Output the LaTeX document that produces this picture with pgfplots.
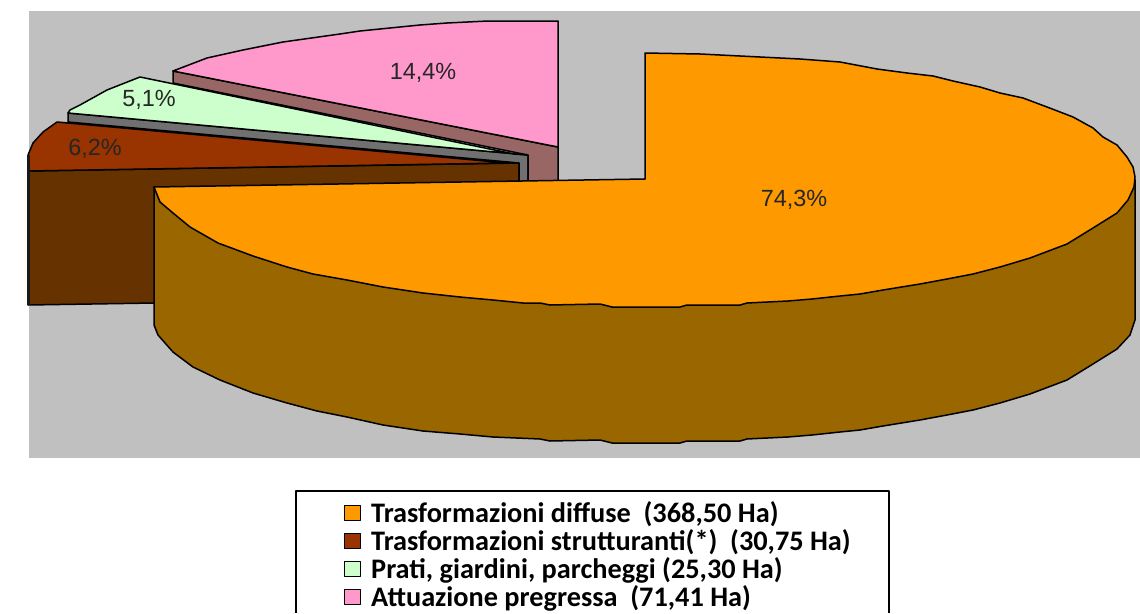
\documentclass[border=0pt]{standalone}
\usepackage{pgfplots}
\pgfplotsset{compat=1.18}
\usepackage{fontspec}
\setmainfont{Liberation Sans}
\newfontfamily\legfont{Carlito}
\definecolor{bgc}{HTML}{C0C0C0}
\definecolor{orT}{HTML}{FF9900}
\definecolor{orS}{HTML}{996600}
\definecolor{brT}{HTML}{993300}
\definecolor{brS}{HTML}{663300}
\definecolor{grT}{HTML}{CCFFCC}
\definecolor{grS}{HTML}{707070}
\definecolor{piT}{HTML}{FF99CC}
\definecolor{piS}{HTML}{996666}
\begin{document}
\begin{tikzpicture}[x=1pt,y=1pt]
\clip (0,0) rectangle (1140,613);
\begin{axis}[
  at={(0,0)}, anchor=south west,
  scale only axis, width=1140pt, height=613pt,
  xmin=0, xmax=1140, ymin=0, ymax=613, y dir=reverse,
  hide axis, clip=true,
  every axis plot/.append style={line width=1.5pt, draw=black, mark=none, line join=round},
]
% background
\addplot[fill=bgc, draw=none] coordinates {(29,11)(1140,11)(1140,458)(29,458)} -- cycle;
% brown
\addplot[fill=brS] coordinates {(28,171)(519,163)(519,200)(155,303)(28,305)} -- cycle;
\addplot[fill=brT] coordinates {(28,171)(28,155)(33,143)(43,132)(57,122)(507,163)} -- cycle;
\addplot[draw=black!90, line width=2.4pt] coordinates {(28.5,155)(28.5,305)};
% green
\addplot[fill=grS] coordinates {(68,113)(528,155)(528,190)(519,190)(519,163)(68,122)} -- cycle;
\addplot[fill=grT] coordinates {(68,113)(70,110)(80,105)(107,90)(140,77)(514,154)(528,155)} -- cycle;
% pink
\addplot[fill=piS] coordinates {(173,71)(558,147)(558,190)(528,190)(528,155)(173,83)} -- cycle;
\addplot[fill=piT] coordinates {(173,71)(207,58)(243,50)(283,42)(340,34)(360,31)(390,28)(420,25)(447,23)(488,21)(558,21)(558,147)} -- cycle;
% orange side
\addplot[fill=orS] coordinates {(154,187)(154,325)(158,335)(173,352)(193,367)(220,380)(253,393)(287,403)(317,411)(347,417)(383,425)(423,431)(460,434)(493,437)(540,439)(550,441)(600,440)(612,443)(680,443)(687,441)(740,441)(747,439)(788,437)(812,435)(840,432)(860,430)(883,426)(920,420)(947,415)(973,410)(1000,403)(1030,394)(1067,380)(1093,364)(1117,349)(1130,335)(1135,320)(1135,180)} -- cycle;
% orange top
\addplot[fill=orT] coordinates {(645,179)(645,53)(700,54)(760,57)(800,59)(840,62)(877,69)(907,73)(933,76)(953,81)(980,87)(1000,93)(1023,98)(1047,107)(1073,117)(1093,128)(1103,137)(1117,145)(1127,157)(1133,167)(1135,177)(1134,187)(1128,200)(1117,213)(1093,228)(1067,244)(1030,258)(1000,267)(973,274)(947,279)(920,284)(883,290)(860,294)(840,296)(812,299)(788,301)(747,303)(740,305)(687,305)(680,307)(612,307)(600,304)(550,305)(540,303)(523,303)(493,300)(460,297)(423,293)(383,287)(347,280)(313,274)(287,267)(253,256)(218,243)(190,227)(173,213)(160,202)(154,187)} -- cycle;
% legend frame
\addplot[line width=1.3pt] coordinates {(296,613)(296,491)(889,491)(889,613)};
% legend swatches
\addplot[fill=orT, line width=1pt] coordinates {(344,505)(360,505)(360,520)(344,520)} -- cycle;
\addplot[fill=brT, line width=1pt] coordinates {(344,533)(360,533)(360,548)(344,548)} -- cycle;
\addplot[fill=grT, line width=1pt] coordinates {(344,561)(360,561)(360,576)(344,576)} -- cycle;
\addplot[fill=piT, line width=1pt] coordinates {(344,589)(360,589)(360,604)(344,604)} -- cycle;
% labels
\path (axis cs:794,199.5) node[font=\fontsize{23.4}{25}\selectfont, text=black!85] {74,3\%};
\path (axis cs:423,72.5) node[font=\fontsize{23.4}{25}\selectfont, text=black!85] {14,4\%};
\path (axis cs:149,99.5) node[font=\fontsize{23.4}{25}\selectfont, text=black!85] {5,1\%};
\path (axis cs:95,148.5) node[font=\fontsize{23.4}{25}\selectfont, text=black!85] {6,2\%};
% legend text
\path (axis cs:371,514.5) node[anchor=west, inner sep=0pt, font=\legfont\bfseries\fontsize{28.3}{30}\selectfont] {Trasformazioni diffuse\ \ (368,50 Ha)};
\path (axis cs:371,542.5) node[anchor=west, inner sep=0pt, font=\legfont\bfseries\fontsize{28.3}{30}\selectfont] {Trasformazioni strutturanti(*)\ \ (30,75 Ha)};
\path (axis cs:371,570.5) node[anchor=west, inner sep=0pt, font=\legfont\bfseries\fontsize{28.3}{30}\selectfont] {Prati, giardini, parcheggi (25,30 Ha)};
\path (axis cs:371,598.5) node[anchor=west, inner sep=0pt, font=\legfont\bfseries\fontsize{28.3}{30}\selectfont] {Attuazione pregressa\ \ (71,41 Ha)};
\end{axis}
\end{tikzpicture}
\end{document}
